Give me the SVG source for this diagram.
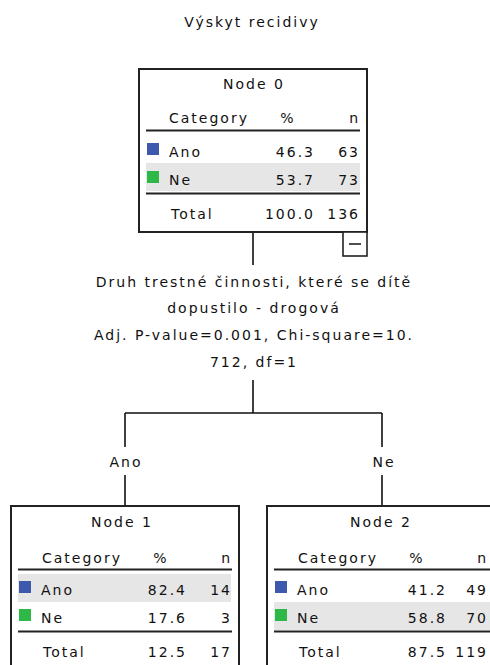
<svg xmlns="http://www.w3.org/2000/svg" width="490" height="665" viewBox="0 0 490 665">
<style>
text{font-family:"DejaVu Sans","Liberation Sans",sans-serif;font-size:14px;fill:#111;letter-spacing:2px}
.m{text-anchor:middle}
.e{text-anchor:end}
.box{fill:#fff;stroke:#222;stroke-width:2}
.rule{stroke:#222;stroke-width:2}
.band{fill:#e6e6e6}
.ano{fill:#3e58ac}
.ne{fill:#2eb848}
.c{stroke:#111;stroke-width:1.6;fill:none}
</style>
<rect width="490" height="665" fill="#fff"/>
<text class="m" x="252" y="27">Výskyt recidivy</text>

<g id="connectors">
<path class="c" d="M253 232V265"/>
<path class="c" d="M253 380V413M125 413H382M125 413V447M125 475V506M382 413V447M382 475V506"/>
<text class="m" x="126" y="467">Ano</text>
<text class="m" x="384" y="467">Ne</text>
</g>

<g id="split">
<text class="m" x="254" y="287">Druh trestné činnosti, které se dítě</text>
<text class="m" x="254" y="313">dopustilo - drogová</text>
<text class="m" x="254" y="340">Adj. P-value=0.001, Chi-square=10.</text>
<text class="m" x="254" y="367">712, df=1</text>
</g>

<g id="node0">
<rect class="box" x="139" y="69" width="228" height="163"/>
<rect class="band" x="146" y="163" width="214" height="28"/>
<text class="m" x="254" y="89">Node 0</text>
<text x="169" y="123">Category</text>
<text class="m" x="288" y="123">%</text>
<text class="e" x="360" y="123">n</text>
<line class="rule" x1="146" y1="130.5" x2="360" y2="130.5"/>
<rect class="ano" x="147" y="143" width="12" height="12"/>
<text x="169" y="157">Ano</text>
<text class="e" x="315" y="157">46.3</text>
<text class="e" x="360" y="157">63</text>
<rect class="ne" x="147" y="171" width="12" height="12"/>
<text x="169" y="185">Ne</text>
<text class="e" x="315" y="185">53.7</text>
<text class="e" x="360" y="185">73</text>
<line class="rule" x1="146" y1="193.5" x2="360" y2="193.5"/>
<text x="171" y="219">Total</text>
<text class="e" x="315" y="219">100.0</text>
<text class="e" x="360" y="219">136</text>
<rect x="343" y="232" width="24" height="24" fill="#fff" stroke="#222" stroke-width="1.6"/>
<line x1="349" y1="244" x2="361" y2="244" stroke="#222" stroke-width="1.6"/>
</g>

<g id="node1">
<rect class="box" x="11" y="506" width="228" height="170"/>
<rect class="band" x="18" y="574" width="213" height="28"/>
<text class="m" x="122" y="527">Node 1</text>
<text x="42" y="563">Category</text>
<text class="m" x="161" y="563">%</text>
<text class="e" x="232" y="563">n</text>
<line class="rule" x1="18" y1="569.5" x2="232" y2="569.5"/>
<rect class="ano" x="19" y="581" width="12" height="12"/>
<text x="41" y="595">Ano</text>
<text class="e" x="187" y="595">82.4</text>
<text class="e" x="232" y="595">14</text>
<rect class="ne" x="19" y="609" width="12" height="12"/>
<text x="41" y="623">Ne</text>
<text class="e" x="187" y="623">17.6</text>
<text class="e" x="232" y="623">3</text>
<line class="rule" x1="18" y1="631.5" x2="232" y2="631.5"/>
<text x="43" y="657">Total</text>
<text class="e" x="187" y="657">12.5</text>
<text class="e" x="232" y="657">17</text>
</g>

<g id="node2">
<rect class="box" x="267" y="506" width="228" height="170"/>
<rect class="band" x="274" y="602" width="216" height="28"/>
<text class="m" x="381" y="527">Node 2</text>
<text x="298" y="563">Category</text>
<text class="m" x="417" y="563">%</text>
<text class="e" x="488" y="563">n</text>
<line class="rule" x1="274" y1="569.5" x2="490" y2="569.5"/>
<rect class="ano" x="275" y="581" width="12" height="12"/>
<text x="297" y="595">Ano</text>
<text class="e" x="447" y="595">41.2</text>
<text class="e" x="488" y="595">49</text>
<rect class="ne" x="275" y="609" width="12" height="12"/>
<text x="297" y="623">Ne</text>
<text class="e" x="447" y="623">58.8</text>
<text class="e" x="488" y="623">70</text>
<line class="rule" x1="274" y1="631.5" x2="490" y2="631.5"/>
<text x="299" y="657">Total</text>
<text class="e" x="447" y="657">87.5</text>
<text class="e" x="488" y="657">119</text>
</g>
</svg>
